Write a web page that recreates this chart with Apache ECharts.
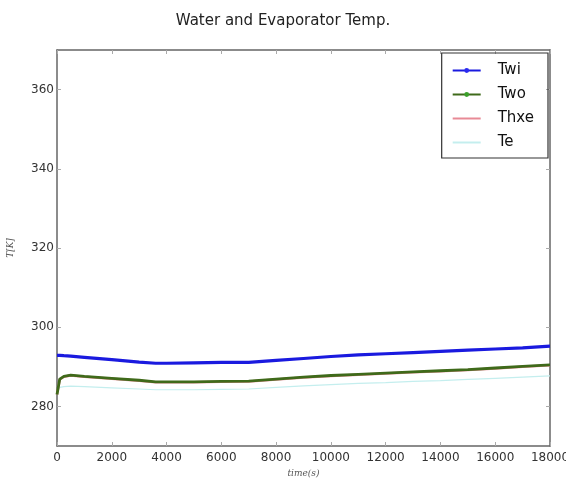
<!DOCTYPE html>
<html>
<head>
<meta charset="utf-8">
<script src="https://cdn.jsdelivr.net/npm/echarts@6/dist/echarts.min.js"></script>
<style>
	html, body { margin: 0; padding: 0; background: #fff; }
	#chartBox { width: 566px; height: 482px; }
</style>
</head>
<body>
<div id="chartBox"></div>
<script>
// 时间点 (s)
var timeS = [0, 100, 250, 500, 1000, 2000, 3000, 3600, 4000, 5000, 6000, 7000, 8000, 9000, 10000, 11000, 12000, 13000, 14000, 15000, 16000, 17000, 18000];
// 各曲线温度 (K)
var twiVals  = [292.9, 292.9, 292.8, 292.7, 292.4, 291.8, 291.2, 290.9, 290.9, 291.0, 291.1, 291.1, 291.6, 292.1, 292.6, 293.0, 293.3, 293.6, 293.9, 294.2, 294.5, 294.8, 295.2];
var twoVals  = [283.0, 286.9, 287.6, 287.9, 287.6, 287.1, 286.6, 286.2, 286.2, 286.2, 286.3, 286.4, 286.9, 287.4, 287.8, 288.1, 288.4, 288.7, 289.0, 289.3, 289.7, 290.1, 290.5];
var thxeVals = [283.0, 286.8, 287.5, 287.8, 287.5, 287.0, 286.5, 286.1, 286.1, 286.1, 286.2, 286.3, 286.8, 287.3, 287.7, 288.0, 288.3, 288.6, 288.9, 289.2, 289.6, 290.0, 290.4];
var teVals   = [284.0, 284.8, 285.0, 285.1, 285.0, 284.7, 284.4, 284.2, 284.2, 284.2, 284.3, 284.4, 284.8, 285.2, 285.5, 285.8, 286.0, 286.3, 286.5, 286.8, 287.1, 287.4, 287.7];
var xTicks = [0, 2000, 4000, 6000, 8000, 10000, 12000, 14000, 16000, 18000];
var yTicks = [280, 300, 320, 340, 360];

function pairs(vals){
	return timeS.map(function(t, i){ return [t, vals[i]]; });
}

// 边框轴（上、右），只画线和刻度
function frameAxis(pos, ticks, lo, hi){
	return {
		type: 'value', position: pos, min: lo, max: hi,
		axisLine: { show: true, onZero: false, lineStyle: { color: '#666', width: 1.5 } },
		axisTick: { show: true, inside: true, length: 4, customValues: ticks, lineStyle: { color: '#aaa' } },
		axisLabel: { show: false },
		splitLine: { show: false }
	};
}

var myChart = echarts.init(document.getElementById('chartBox'));
myChart.setOption({
	animation: false,
	title: {
		text: 'Water and Evaporator Temp.',
		left: 'center',
		top: 9,
		textStyle: { fontFamily: 'DejaVu Sans', fontSize: 15, fontWeight: 'normal', color: '#222' }
	},
	grid: { left: 57, right: 16, top: 50, bottom: 36, outerBoundsMode: 'none', containLabel: false },
	legend: {
		orient: 'vertical',
		right: 18,
		top: 53,
		padding: [10, 14, 8, 10],
		itemGap: 9,
		itemWidth: 28,
		itemHeight: 6,
		borderColor: '#333',
		borderWidth: 1.2,
		textStyle: { fontFamily: 'DejaVu Sans', fontSize: 15, color: '#111', padding: [0, 0, 0, 12] },
		data: [
			'Twi',
			'Two',
			{ name: 'Thxe', itemStyle: { opacity: 0 } },
			{ name: 'Te', itemStyle: { opacity: 0 } }
		]
	},
	xAxis: [{
		type: 'value',
		min: 0,
		max: 18000,
		name: 'time(s)',
		nameLocation: 'middle',
		nameGap: 19,
		nameTextStyle: { fontFamily: 'DejaVu Serif', fontStyle: 'italic', fontSize: 9, color: '#555' },
		axisLine: { lineStyle: { color: '#666', width: 1.5 } },
		axisTick: { inside: true, length: 4, customValues: xTicks, lineStyle: { color: '#aaa' } },
		axisLabel: { fontFamily: 'DejaVu Sans', fontSize: 12, color: '#333', margin: 6, customValues: xTicks,
			formatter: function(v){ return String(v); } },
		splitLine: { show: false }
	}, frameAxis('top', xTicks, 0, 18000)],
	yAxis: [{
		type: 'value',
		min: 270,
		max: 370,
		name: 'T[K]',
		nameLocation: 'middle',
		nameGap: 42,
		nameTextStyle: { fontFamily: 'DejaVu Serif', fontStyle: 'italic', fontSize: 9, color: '#555' },
		axisLine: { show: true, lineStyle: { color: '#666', width: 1.5 } },
		axisTick: { inside: true, length: 4, customValues: yTicks, lineStyle: { color: '#aaa' } },
		axisLabel: { fontFamily: 'DejaVu Sans', fontSize: 12, color: '#333', margin: 3, customValues: yTicks },
		splitLine: { show: false }
	}, frameAxis('right', yTicks, 270, 370)],
	series: [
		{
			name: 'Te', type: 'line', data: pairs(teVals), z: 1,
			showSymbol: false, symbol: 'none',
			lineStyle: { color: '#c4eeee', width: 1.2 },
			itemStyle: { color: '#c4eeee' }
		},
		{
			name: 'Thxe', type: 'line', data: pairs(thxeVals), z: 2,
			showSymbol: false, symbol: 'none',
			lineStyle: { color: '#e88a96', width: 2.5 },
			itemStyle: { color: '#e88a96' }
		},
		{
			name: 'Two', type: 'line', data: pairs(twoVals), z: 3,
			symbol: 'circle', symbolSize: 4, showSymbol: false,
			lineStyle: { color: '#3f6a1a', width: 2.8 },
			itemStyle: { color: '#3aa02a' }
		},
		{
			name: 'Twi', type: 'line', data: pairs(twiVals), z: 4,
			symbol: 'circle', symbolSize: 4, showSymbol: false,
			lineStyle: { color: '#1a1adf', width: 3.2 },
			itemStyle: { color: '#2a2af0' }
		}
	]
});
</script>
</body>
</html>
